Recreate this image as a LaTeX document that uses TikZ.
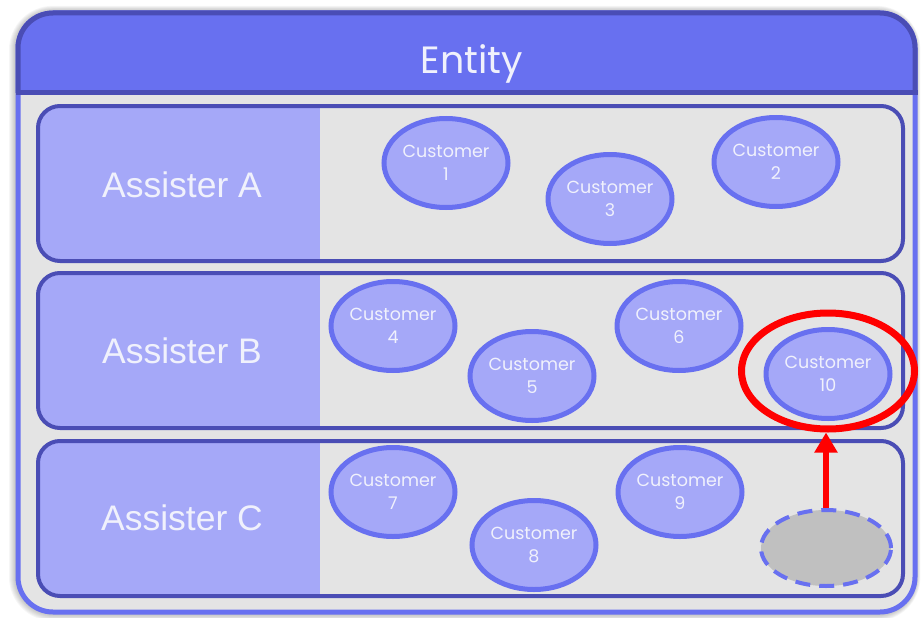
\documentclass[tikz,border=0pt]{standalone}
\usepackage{fontspec}
\setmainfont{Liberation Sans}
\newfontfamily\montf{Poppins}
\usetikzlibrary{shapes.geometric,arrows.meta}
\definecolor{hdr}{RGB}{104,112,240}
\definecolor{darkb}{RGB}{74,77,181}
\definecolor{lightf}{RGB}{165,168,248}
\definecolor{bodyg}{RGB}{228,228,228}
\definecolor{ghostg}{RGB}{192,192,192}
\definecolor{txtw}{RGB}{240,241,252}
\tikzset{
  cust/.style={ellipse, draw=hdr, fill=lightf, line width=5pt, minimum width=124pt, minimum height=89pt,
    inner sep=0pt, align=center, text=txtw, font=\montf\fontsize{17.5}{22.5}\selectfont},
  assist/.style={text=txtw, font=\fontsize{35.5}{40}\selectfont},
  rowbox/.style={draw=darkb, line width=4pt, rounded corners=22pt},
}
\begin{document}
\begin{tikzpicture}[x=1pt,y=-1pt]
\useasboundingbox (0,0) rectangle (921,618);
% shadow
\foreach \i in {1,...,9}{
  \fill[black, opacity=0.035, rounded corners=35pt+\i pt] (18-\i,13-0.8*\i) rectangle (915+0.6*\i,612+\i);
}
% body
\draw[line width=5pt, draw=hdr, fill=bodyg, rounded corners=35pt] (18,13) rectangle (915,612);
% header
\begin{scope}
  \clip (0,0) rectangle (921,92);
  \draw[line width=5pt, draw=darkb, fill=hdr, rounded corners=35pt] (18,13) rectangle (915,160);
\end{scope}
\draw[line width=5pt, draw=darkb] (15.5,92) -- (917.5,92);
\node[text=txtw, font=\montf\fontsize{38}{44}\selectfont] (entity) at (472,64) {Entity};
% rows
\foreach \t/\b in {106/261, 273/428, 441/596}{
  \begin{scope}
    \clip[rounded corners=22pt] (38,\t) rectangle (903,\b);
    \fill[bodyg] (38,\t) rectangle (903,\b);
    \fill[lightf] (38,\t) rectangle (320,\b);
  \end{scope}
  \draw[rowbox] (38,\t) rectangle (903,\b);
}
\node[assist] (asA) at (182,185) {Assister A};
\node[assist] (asB) at (182,351) {Assister B};
\node[assist] (asC) at (182,518) {Assister C};
% customers
\node[cust] (c1) at (446,163) {Customer\\1};
\node[cust] (c3) at (610,199) {Customer\\3};
\node[cust] (c2) at (776,162) {Customer\\2};
\node[cust] (c4) at (393,326) {Customer\\4};
\node[cust] (c5) at (532,376) {Customer\\5};
\node[cust] (c6) at (679,326) {Customer\\6};
\node[cust] (c10) at (828,374) {Customer\\10};
\node[cust] (c7) at (393,492) {Customer\\7};
\node[cust] (c8) at (534,545) {Customer\\8};
\node[cust] (c9) at (680,492) {Customer\\9};
% ghost
\node[ellipse, draw=hdr, fill=ghostg, line width=4pt, dash pattern=on 15pt off 9pt,
  minimum width=130pt, minimum height=76pt] (ghost) at (826,548) {};
% highlight
\node[ellipse, draw=red, line width=7pt, minimum width=173pt, minimum height=116pt] (hl) at (828,371) {};
\draw[red, line width=6pt, -{Triangle[length=20pt,width=22pt]}] (ghost.north) -- (hl.south -| ghost.north);
\end{tikzpicture}
\end{document}
